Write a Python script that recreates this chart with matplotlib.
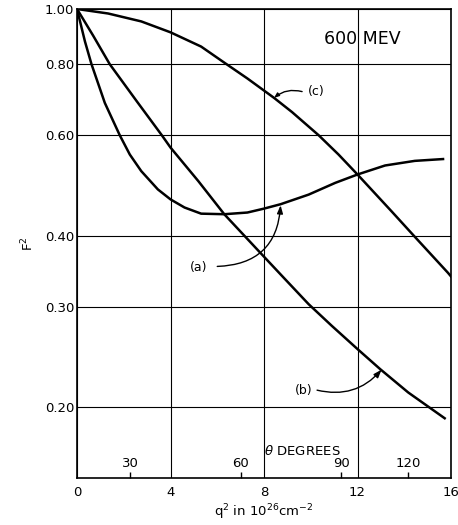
import numpy as np
import matplotlib.pyplot as plt
from matplotlib.ticker import FixedLocator, NullLocator

FONT_SIZE = 9.5
plt.rcParams.update({'font.size': FONT_SIZE})
plt.rcParams['font.family'] = 'DejaVu Sans'
plt.rcParams['mathtext.fontset'] = 'dejavusans'

# curves: q^2 (10^26 cm^-2) vs F^2
q_a = [0, 0.34, 0.62, 1.19, 1.83, 2.26, 2.75, 3.46, 4.0, 4.6, 5.31, 6.30, 7.29, 8.0,
       8.71, 9.91, 11.05, 12.0, 13.18, 14.45, 15.66]
f_a = [1.0, 0.877, 0.80, 0.684, 0.60, 0.555, 0.519, 0.482, 0.463, 0.448, 0.437, 0.436, 0.439, 0.446,
       0.454, 0.472, 0.495, 0.512, 0.531, 0.541, 0.545]

q_b = [0, 0.69, 1.40, 2.54, 3.63, 4.0, 5.19, 6.30, 7.79, 8.85, 9.91, 10.9, 12.0, 12.97, 14.17, 15.73]
f_b = [1.0, 0.898, 0.80, 0.690, 0.60, 0.571, 0.4985, 0.436, 0.375, 0.337, 0.303, 0.2776, 0.2527, 0.233, 0.212, 0.191]

q_c = [0, 1.33, 2.75, 4.0, 5.31, 6.30, 7.29, 8.0, 8.43, 9.2, 10.34, 11.19, 12.0, 13.46, 14.45, 15.87, 16.0]
f_c = [1.0, 0.982, 0.951, 0.910, 0.859, 0.805, 0.755, 0.719, 0.698, 0.659, 0.600, 0.555, 0.512, 0.441, 0.398, 0.344, 0.339]

x_ticks = [0, 4, 8, 12, 16]
y_ticks = [0.20, 0.30, 0.40, 0.60, 0.80, 1.00]
theta_q = [2.28, 7.0, 11.3, 14.15]
theta_labels = ['30', '60', '90', '120']

fig = plt.figure(figsize=(4.58, 5.25), dpi=100)
ax = fig.add_axes([77/458, 1 - 478/525, 374/458, 469/525])

ax.set_yscale('log')
ax.set_xlim(0, 16)
ax.set_ylim(0.15, 1.0)

ax.xaxis.set_major_locator(FixedLocator(x_ticks))
ax.set_xticklabels([str(t) for t in x_ticks])
ax.yaxis.set_major_locator(FixedLocator(y_ticks))
ax.yaxis.set_minor_locator(NullLocator())
ax.set_yticklabels([f'{t:.2f}' for t in y_ticks])
ax.tick_params(axis='both', length=0)
ax.tick_params(axis='y', pad=2)
ax.tick_params(axis='x', pad=6)

ax.grid(True, color='black', linewidth=0.8)
for s in ax.spines.values():
    s.set_linewidth(1.2)

lw = 1.8
ax.plot(q_a, f_a, color='black', linewidth=lw, solid_joinstyle='round')
ax.plot(q_b, f_b, color='black', linewidth=lw, solid_joinstyle='round')
ax.plot(q_c, f_c, color='black', linewidth=lw, solid_joinstyle='round')

# curve labels with pointers
head = dict(arrowstyle='-|>,head_length=0.5,head_width=0.18', color='black', linewidth=1.0,
            shrinkA=0, shrinkB=0)
ax.text(5.19, 0.351, '(a)', ha='center', va='center', fontsize=9)
ax.annotate('', xy=(8.71, 0.452), xytext=(6.0, 0.353),
            arrowprops=dict(connectionstyle='arc3,rad=0.45', **head))
ax.text(9.69, 0.214, '(b)', ha='center', va='center', fontsize=9)
ax.annotate('', xy=(13.03, 0.2325), xytext=(10.27, 0.214),
            arrowprops=dict(connectionstyle='arc3,rad=0.3', **head))
ax.text(10.23, 0.716, '(c)', ha='center', va='center', fontsize=9)
ax.annotate('', xy=(8.43, 0.698), xytext=(9.63, 0.716),
            arrowprops=dict(arrowstyle='-|>,head_length=0.3,head_width=0.12', color='black',
                            linewidth=1.0, shrinkA=0, shrinkB=0,
                            connectionstyle='arc3,rad=0.25'))

ax.text(12.2, 0.886, '600 MEV', ha='center', va='center', fontsize=12.5)

# scattering angle scale inside the bottom edge
sec = ax.secondary_xaxis('bottom')
sec.xaxis.set_major_locator(FixedLocator(theta_q))
sec.set_xticklabels(theta_labels)
sec.tick_params(axis='x', direction='in', length=4, width=1.0, pad=-15, labelsize=9.5)
sec.spines['bottom'].set_visible(False)
ax.text(8.0, 0.1676, r'$\theta$ DEGREES', ha='left', va='center', fontsize=9.5)

ax.set_ylabel(r'F$^2$', labelpad=6)
ax.set_xlabel(r'q$^2$ in 10$^{26}$cm$^{-2}$', labelpad=2)

fig.savefig('out.png', dpi=100)
